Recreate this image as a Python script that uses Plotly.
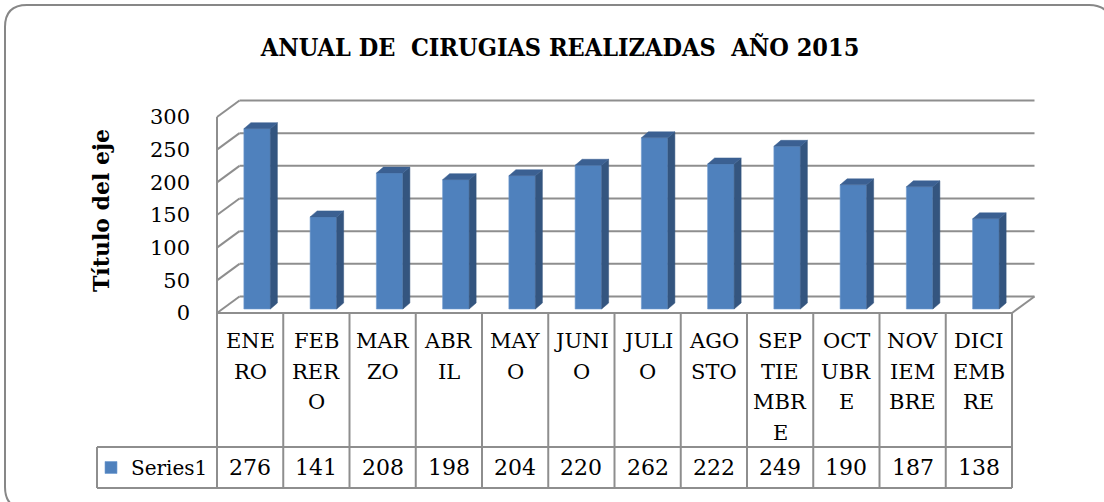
import plotly.graph_objects as go

# data
meses = ["ENE<br>RO", "FEB<br>RER<br>O", "MAR<br>ZO", "ABR<br>IL", "MAY<br>O", "JUNI<br>O",
         "JULI<br>O", "AGO<br>STO", "SEP<br>TIE<br>MBR<br>E", "OCT<br>UBR<br>E",
         "NOV<br>IEM<br>BRE", "DICI<br>EMB<br>RE"]
cirugias = [276, 141, 208, 198, 204, 220, 262, 222, 249, 190, 187, 138]
serie = "Series1"
y_ticks = [0, 50, 100, 150, 200, 250, 300]
titulo = "ANUAL DE\u00a0 CIRUGIAS REALIZADAS\u00a0 AÑO 2015"
titulo_eje = "Título del eje"

# page geometry (pixels)
W, H = 1104, 502
L, R, T, B = 88, 1040, 95, 495
COL0, COLW = 217, 66.25          # left edge of the table / width of one category
BASE, PXU = 313, 196 / 300       # pixel of value 0 on the front plane / pixels per unit

GRID = "#8e8e8e"
FONT = "DejaVu Serif"


def xu(px):
    return -0.5 + (px - COL0) / COLW


def yu(py):
    return (BASE - py) / PXU


def xp(px):
    return (px - L) / (R - L)


def yp(py):
    return (B - py) / (B - T)


# 3d look: depth of the walls and of the columns
DX, DY = 22.5 / COLW, 16.5 / PXU
BX, BY = 7 / COLW, 4 / PXU
BW = 26.5 / COLW
SX, SY = 7 / COLW, 6 / PXU

n = len(cirugias)
idx = list(range(n))

fig = go.Figure()

# front faces
fig.add_trace(go.Bar(
    x=[i + BX for i in idx], y=cirugias, base=BY, width=BW, name=serie,
    marker=dict(color="#4F81BD", line=dict(color="#6E9AD0", width=0.6)),
    showlegend=True, hoverinfo="skip"))

# side and top faces
side_x, side_y, top_x, top_y = [], [], [], []
for i, v in zip(idx, cirugias):
    x0 = i + BX - BW / 2
    x1 = i + BX + BW / 2
    side_x += [x1, x1 + SX, x1 + SX, x1, x1, None]
    side_y += [BY, BY + SY, BY + SY + v, BY + v, BY, None]
    top_x += [x0, x1, x1 + SX, x0 + SX, x0, None]
    top_y += [BY + v, BY + v, BY + v + SY, BY + v + SY, BY + v, None]

fig.add_trace(go.Scatter(x=side_x, y=side_y, fill="toself", mode="lines",
                         fillcolor="#34557F", line=dict(width=0.5, color="#34557F"),
                         showlegend=False, hoverinfo="skip"))
fig.add_trace(go.Scatter(x=top_x, y=top_y, fill="toself", mode="lines",
                         fillcolor="#3B6092", line=dict(width=0.5, color="#3B6092"),
                         showlegend=False, hoverinfo="skip"))

shapes = []


def line(x0, y0, x1, y1, color=GRID, width=2):
    shapes.append(dict(type="line", xref="x", yref="y", x0=x0, y0=y0, x1=x1, y1=y1,
                       line=dict(color=color, width=width), layer="below"))


# back wall grid + left wall diagonals
for v in y_ticks:
    line(-0.5 + DX, v + DY, n - 0.5 + DX, v + DY)
    line(-0.5, v, -0.5 + DX, v + DY)
line(n - 0.5, 0, n - 0.5 + DX, DY)
line(-0.5, 0, -0.5, y_ticks[-1])

# data table
row1, row2 = yu(447), yu(488)
line(-0.5, 0, n - 0.5, 0)
line(xu(97), row1, n - 0.5, row1)
line(xu(97), row2, n - 0.5, row2)
line(xu(97), row1, xu(97), row2)
for k in range(n + 1):
    line(k - 0.5, 0, k - 0.5, row2)

# rounded outer frame
r = 22
x0, y0, x1, y1 = 5, 5, 1111, 509
path = (f"M {xp(x0 + r)},{yp(y0)} L {xp(x1 - r)},{yp(y0)} Q {xp(x1)},{yp(y0)} {xp(x1)},{yp(y0 + r)} "
        f"L {xp(x1)},{yp(y1 - r)} Q {xp(x1)},{yp(y1)} {xp(x1 - r)},{yp(y1)} "
        f"L {xp(x0 + r)},{yp(y1)} Q {xp(x0)},{yp(y1)} {xp(x0)},{yp(y1 - r)} "
        f"L {xp(x0)},{yp(y0 + r)} Q {xp(x0)},{yp(y0)} {xp(x0 + r)},{yp(y0)} Z")
shapes.append(dict(type="path", xref="paper", yref="paper", path=path,
                   line=dict(color="#878787", width=2)))

annotations = []
for i, lab in zip(idx, meses):
    for j, part in enumerate(lab.split("<br>")):
        annotations.append(dict(x=i, y=yu(341 + j * 30.7), xref="x", yref="y", text=part,
                                showarrow=False, xanchor="center", yanchor="middle",
                                font=dict(family=FONT, size=21, color="black")))
for i, v in zip(idx, cirugias):
    annotations.append(dict(x=i, y=yu(467.5), xref="x", yref="y", text=str(v),
                            showarrow=False, xanchor="center", yanchor="middle",
                            font=dict(family=FONT, size=22, color="black")))
annotations.append(dict(x=xu(101), y=yu(211), xref="x", yref="y", text=f"<b>{titulo_eje}</b>",
                        textangle=-90, showarrow=False, xanchor="center", yanchor="middle",
                        font=dict(family=FONT, size=22, color="black")))

fig.update_layout(
    width=W, height=H, autosize=False,
    margin=dict(l=L, r=W - R, t=T, b=H - B, pad=0),
    paper_bgcolor="white", plot_bgcolor="white",
    title=dict(text=f"<b>{titulo}</b>", x=560 / W, xanchor="center",
               y=1 - 47 / H, yanchor="middle",
               font=dict(family="DejaVu Serif Condensed, DejaVu Serif", size=25, color="black")),
    xaxis=dict(range=[xu(L), xu(R)], visible=False, fixedrange=True),
    yaxis=dict(range=[yu(B), yu(T)], anchor="free", position=xp(COL0),
               tickvals=y_ticks, showgrid=False, zeroline=False, showline=False,
               ticks="", ticklabelstandoff=27, fixedrange=True,
               tickfont=dict(family=FONT, size=21, color="black")),
    showlegend=True,
    legend=dict(x=xp(91), y=yp(467.5), xanchor="left", yanchor="middle",
                bgcolor="rgba(0,0,0,0)", borderwidth=0, itemwidth=30,
                font=dict(family=FONT, size=20, color="black")),
    shapes=shapes, annotations=annotations, hovermode=False,
)

# the page would otherwise add the default 8px body margin around the figure
fig.write_html("out.html", config={"displayModeBar": False},
               post_script="document.body.style.margin='0';")
